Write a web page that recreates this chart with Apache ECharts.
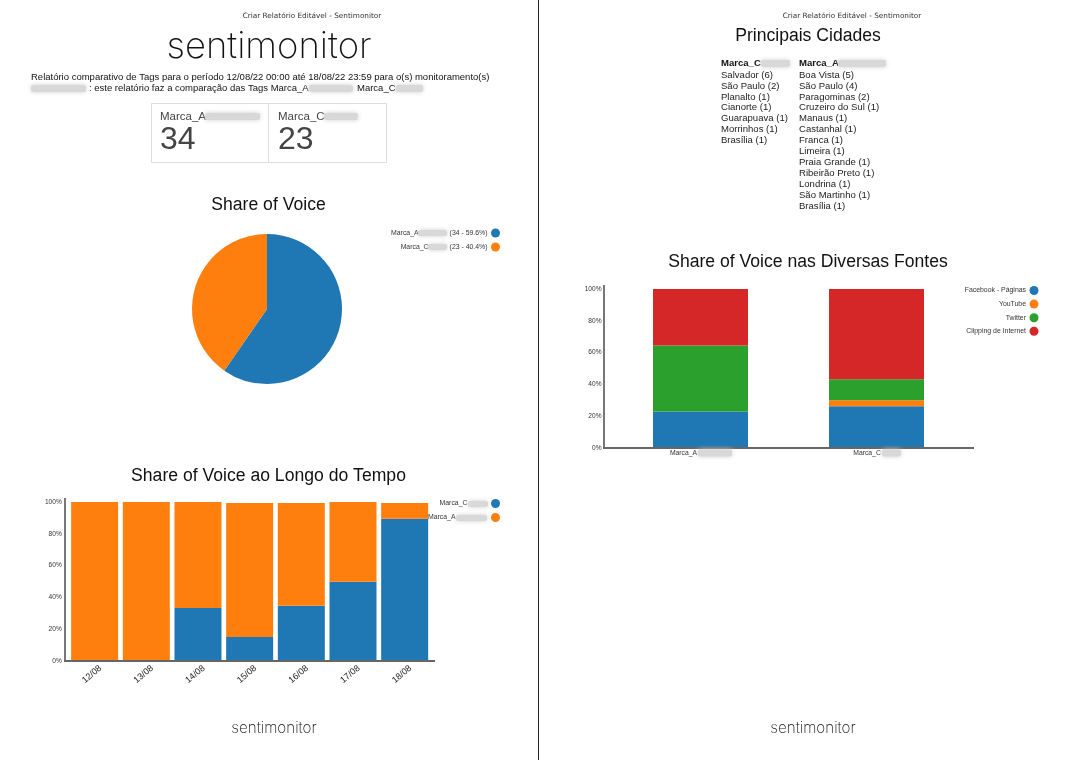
<!DOCTYPE html>
<html>
<head>
<meta charset="utf-8">
<title>Sentimonitor</title>
<script src="https://cdn.jsdelivr.net/npm/echarts@6/dist/echarts.min.js"></script>
<style>
html, body { margin: 0; padding: 0; background: #fff; }
</style>
</head>
<body>
<div id="main" style="width: 1077px;height:760px;"></div>
<script type="text/javascript">

    // dados do relatorio
    var shareNames = ['Marca_A', 'Marca_C'];
    var shareValues = [34, 23];
    var shareLabels = ['(34 - 59.6%)', '(23 - 40.4%)'];

    var dias = ['12/08', '13/08', '14/08', '15/08', '16/08', '17/08', '18/08'];
    var diasMarcaC = [0, 0, 33.3, 15.1, 34.7, 49.8, 89.4];
    var diasMarcaA = [100, 100, 66.7, 84.3, 64.7, 50.2, 10];

    var marcas = ['Marca_A', 'Marca_C'];
    var fonteFacebook = [22.9, 26.3];
    var fonteYoutube = [0, 3.7];
    var fonteTwitter = [41.6, 13.3];
    var fonteClipping = [35.5, 56.7];

    var cidadesC = ['Salvador (6)', 'São Paulo (2)', 'Planalto (1)', 'Cianorte (1)', 'Guarapuava (1)', 'Morrinhos (1)', 'Brasília (1)'];
    var cidadesA = ['Boa Vista (5)', 'São Paulo (4)', 'Paragominas (2)', 'Cruzeiro do Sul (1)', 'Manaus (1)', 'Castanhal (1)', 'Franca (1)', 'Limeira (1)', 'Praia Grande (1)', 'Ribeirão Preto (1)', 'Londrina (1)', 'São Martinho (1)', 'Brasília (1)'];

    var azul = '#1f77b4', laranja = '#ff7f0e', verde = '#2ca02c', vermelho = '#d62728';
    var fonte = '"Liberation Sans", Arial, sans-serif';

    var myChart = echarts.init(document.getElementById('main'));

    // texto solto da pagina
    function texto(x, y, str, size, extra) {
        var style = { x: x, y: y, text: str, fontSize: size, fontFamily: fonte, fill: '#111', textVerticalAlign: 'middle' };
        for (var k in extra) { style[k] = extra[k]; }
        return { type: 'text', silent: true, z: 10, style: style };
    }
    // tarja borrada por cima dos nomes
    function tarja(x, y, w, h) {
        return {
            type: 'rect', silent: true, z: 20,
            shape: { x: x, y: y, width: w, height: h, r: 2 },
            style: { fill: '#d8d8d8', shadowBlur: 5, shadowColor: '#d0d0d0' }
        };
    }
    function linha(x1, y1, x2, y2, cor, w) {
        return {
            type: 'line', silent: true, z: 5,
            shape: { x1: x1, y1: y1, x2: x2, y2: y2 },
            style: { stroke: cor, lineWidth: w }
        };
    }
    function logo(x, y, size) {
        return texto(x, y, 'sentimonitor', size, { fontFamily: 'Inter', fontWeight: 200, textAlign: 'center', fill: '#111' });
    }

    var graficos = [
        linha(538.5, 0, 538.5, 760, '#222', 1),

        texto(312, 16, 'Criar Relatório Editável - Sentimonitor', 7.3, { fontFamily: 'DejaVu Sans', textAlign: 'center', fill: '#333' }),
        texto(852, 16, 'Criar Relatório Editável - Sentimonitor', 7.3, { fontFamily: 'DejaVu Sans', textAlign: 'center', fill: '#333' }),
        logo(269, 47, 36.5),
        logo(274, 728, 15.2),
        logo(813, 728, 15.2),

        texto(31, 77, 'Relatório comparativo de Tags para o período 12/08/22 00:00 até 18/08/22 23:59 para o(s) monitoramento(s)', 9.5),
        texto(89, 88.5, ': este relatório faz a comparação das Tags Marca_A', 9.5),
        texto(357, 88.5, 'Marca_C', 9.5),
        tarja(31, 85, 55, 7),
        tarja(309, 85, 44, 7),
        tarja(396, 85, 27, 7),

        // caixas de total
        { type: 'rect', silent: true, shape: { x: 151.5, y: 103.5, width: 117, height: 59 }, style: { fill: 'none', stroke: '#ddd', lineWidth: 1 } },
        { type: 'rect', silent: true, shape: { x: 268.5, y: 103.5, width: 118, height: 59 }, style: { fill: 'none', stroke: '#ddd', lineWidth: 1 } },
        texto(160, 116.5, shareNames[0], 11.5, { fill: '#444' }),
        texto(278, 116.5, shareNames[1], 11.5, { fill: '#444' }),
        texto(160, 140.5, String(shareValues[0]), 32, { fill: '#444' }),
        texto(278, 140.5, String(shareValues[1]), 32, { fill: '#444' }),
        tarja(205, 113, 55, 7),
        tarja(324, 113, 34, 7),

        texto(268.5, 205.5, 'Share of Voice', 17.6, { textAlign: 'center' }),
        texto(268.5, 476.5, 'Share of Voice ao Longo do Tempo', 17.6, { textAlign: 'center' }),
        texto(808, 36.5, 'Principais Cidades', 17.6, { textAlign: 'center' }),
        texto(808, 262.5, 'Share of Voice nas Diversas Fontes', 17.6, { textAlign: 'center' }),

        // cidades
        texto(721, 63.5, 'Marca_C', 9.55, { fontWeight: 'bold' }),
        texto(799, 63.5, 'Marca_A', 9.55, { fontWeight: 'bold' }),
        texto(721, 69.5, cidadesC.join('\n'), 9.55, { textVerticalAlign: 'top', lineHeight: 10.95, fill: '#222' }),
        texto(799, 69.5, cidadesA.join('\n'), 9.55, { textVerticalAlign: 'top', lineHeight: 10.95, fill: '#222' }),
        tarja(761, 60, 29, 7),
        tarja(838, 60, 48, 7),

        // eixos
        linha(65, 498, 65, 661, '#777', 2),
        linha(64, 661, 435, 661, '#666', 2),
        linha(604, 285, 604, 448, '#777', 2),
        linha(603, 448, 974, 448, '#666', 2),

        // nomes borrados das legendas e do eixo
        tarja(418, 230, 29, 6),
        tarja(428, 244, 19, 6),
        tarja(468, 501, 20, 6),
        tarja(456, 515, 31, 6),
        tarja(698, 449.5, 34, 7),
        tarja(882, 449.5, 19, 7)
    ];

    function barra(nome, dados, cor, xi, largura) {
        return {
            name: nome, type: 'bar', stack: 'total' + xi, xAxisIndex: xi, yAxisIndex: xi,
            data: dados, barWidth: largura, silent: true,
            itemStyle: { color: cor }
        };
    }
    function eixoY(gi, margem) {
        return {
            type: 'value', gridIndex: gi, min: 0, max: 100, interval: 20,
            axisLine: { show: false }, axisTick: { show: false }, splitLine: { show: false },
            axisLabel: { formatter: '{value}%', fontSize: 6.6, fontFamily: fonte, color: '#333', margin: margem }
        };
    }
    function legenda(nomes, direita, topo, gap, formatter) {
        var leg = {
            orient: 'vertical', align: 'right', right: direita, top: topo, padding: 0,
            itemWidth: 9, itemHeight: 9, itemGap: gap, icon: 'circle', selectedMode: false,
            data: nomes,
            textStyle: { fontSize: 6.9, fontFamily: fonte, color: '#333', padding: [0, -1.5, 0, 0] }
        };
        if (formatter) {
            leg.formatter = formatter;
            leg.textStyle.rich = {
                t: { fontSize: 6.9, fontFamily: fonte, color: '#333' },
                g20: { width: 20 }, g21: { width: 21 }, g31: { width: 31 }, g32: { width: 32 }
            };
        }
        return leg;
    }

    var nomeFatia = [shareNames[0] + ' ' + shareLabels[0], shareNames[1] + ' ' + shareLabels[1]];

    var option1 = {
        animation: false,
        backgroundColor: '#fff',
        grid: [
            { left: 68.8, top: 502, width: 361.7, height: 159 },
            { left: 612.5, top: 289, width: 352, height: 159 }
        ],
        xAxis: [
            {
                type: 'category', gridIndex: 0, data: dias,
                axisLine: { show: false }, axisTick: { show: false },
                axisLabel: {
                    rotate: 40, align: 'center', verticalAlign: 'middle', padding: [0, 7, 0, 0],
                    fontSize: 9, fontFamily: fonte, color: '#222', margin: 11, interval: 0
                }
            },
            {
                type: 'category', gridIndex: 1, data: marcas,
                axisLine: { show: false }, axisTick: { show: false },
                axisLabel: {
                    fontSize: 6.8, fontFamily: fonte, color: '#333', margin: 2, interval: 0,
                    formatter: function (v) { return v == 'Marca_A' ? '{t|' + v + '}{a|}' : '{t|' + v + '}{c|}'; },
                    rich: { t: { fontSize: 6.8, fontFamily: fonte, color: '#333' }, a: { width: 34 }, c: { width: 19 } }
                }
            }
        ],
        yAxis: [eixoY(0, 7), eixoY(1, 11)],
        legend: [
            legenda(nomeFatia, 577, 228.5, 5, function (n) {
                var p = n.split(' ');
                return '{t|' + p[0] + '}{' + (p[0] == 'Marca_A' ? 'g31' : 'g21') + '|}{t|' + p[1] + ' ' + p[2] + ' ' + p[3] + '}';
            }),
            legenda(['Marca_C', 'Marca_A'], 577, 499, 5, function (n) {
                return '{t|' + n + '}{' + (n == 'Marca_A' ? 'g32' : 'g20') + '|}';
            }),
            legenda(['Facebook - Páginas', 'YouTube', 'Twitter', 'Clipping de Internet'], 38.5, 286, 4.6)
        ],
        series: [
            {
                type: 'pie', center: [267, 309], radius: 75, startAngle: 90, silent: true,
                label: { show: false }, labelLine: { show: false },
                data: [
                    { name: nomeFatia[0], value: shareValues[0], itemStyle: { color: azul } },
                    { name: nomeFatia[1], value: shareValues[1], itemStyle: { color: laranja } }
                ]
            },
            barra('Marca_C', diasMarcaC, azul, 0, 47),
            barra('Marca_A', diasMarcaA, laranja, 0, 47),
            barra('Facebook - Páginas', fonteFacebook, azul, 1, 95),
            barra('YouTube', fonteYoutube, laranja, 1, 95),
            barra('Twitter', fonteTwitter, verde, 1, 95),
            barra('Clipping de Internet', fonteClipping, vermelho, 1, 95)
        ],
        graphic: { elements: graficos }
    };

    myChart.setOption(option1);
</script>
</body>
</html>
